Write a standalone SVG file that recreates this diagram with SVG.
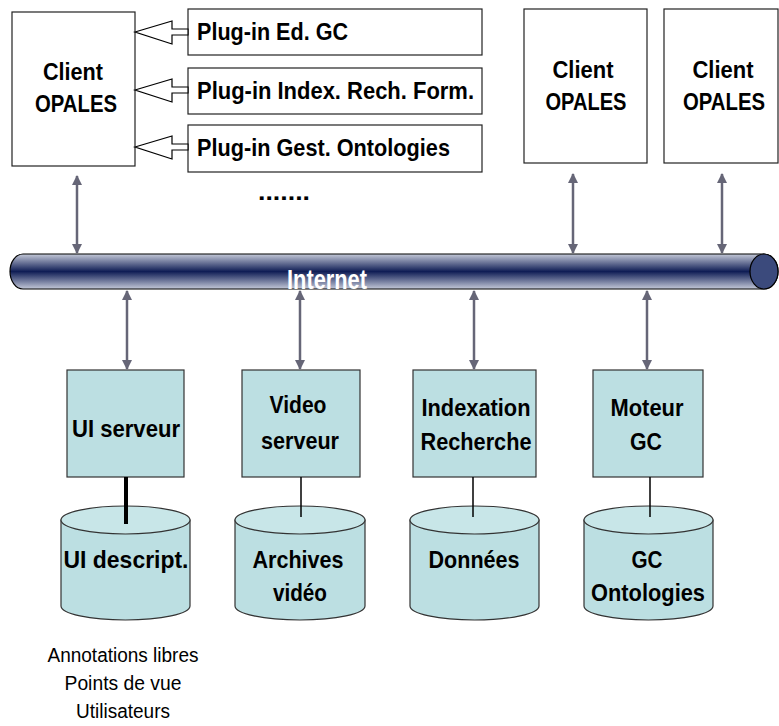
<svg xmlns="http://www.w3.org/2000/svg" width="779" height="726" viewBox="0 0 779 726">
<defs>
<linearGradient id="pipe" x1="0" y1="0" x2="0" y2="1">
<stop offset="0" stop-color="#c4c9d8"/>
<stop offset="0.5" stop-color="#0f1d55"/>
<stop offset="1" stop-color="#c4c9d8"/>
</linearGradient>
<marker id="ah" viewBox="0 0 10 10" refX="9" refY="5" markerWidth="4" markerHeight="4" orient="auto-start-reverse" markerUnits="strokeWidth">
<path d="M0,0 L10,5 L0,10 Z" fill="#666677"/>
</marker>
<style>
.t{font-family:"Liberation Sans Narrow","Arial Narrow","Liberation Sans",sans-serif;font-weight:bold;font-size:24px;fill:#000}
.c{text-anchor:middle}
.r{font-weight:normal;font-size:20px}
.box{fill:#fff;stroke:#222;stroke-width:1.2}
.srv{fill:#bcdfe2;stroke:#333;stroke-width:1.2}
.cyl{fill:#bcdfe2;stroke:#333;stroke-width:1.2}
.top{fill:#c8e6e8;stroke:#333;stroke-width:1.2}
.ar{stroke:#666677;stroke-width:2.5;fill:none;marker-start:url(#ah);marker-end:url(#ah)}
.ln{stroke:#000;stroke-width:1.5}
</style>
</defs>

<g id="internet">
<path d="M23,254 L764,254 A14,17.5 0 0 1 764,289 L23,289 A13,17.5 0 0 1 23,254 Z" fill="url(#pipe)" stroke="#000" stroke-width="1.2"/>
<ellipse cx="764" cy="271.5" rx="14" ry="17.5" fill="#3b4a7c" stroke="#000" stroke-width="1.2"/>
<text class="t c" x="327" y="289" style="fill:#fff;font-size:27px" textLength="80" lengthAdjust="spacingAndGlyphs">Internet</text>
</g>

<g id="client1">
<rect class="box" x="12" y="12" width="123" height="154"/>
<text class="t c" x="73" y="80" textLength="60" lengthAdjust="spacingAndGlyphs">Client</text>
<text class="t c" x="76" y="112" textLength="82" lengthAdjust="spacingAndGlyphs">OPALES</text>
</g>
<g id="plugin1">
<rect class="box" x="188" y="9" width="294" height="46"/>
<text class="t" x="197" y="40" textLength="151" lengthAdjust="spacingAndGlyphs">Plug-in Ed. GC</text>
</g>
<g id="plugin2">
<rect class="box" x="188" y="68" width="294" height="46"/>
<text class="t" x="197" y="99" textLength="277" lengthAdjust="spacingAndGlyphs">Plug-in Index. Rech. Form.</text>
</g>
<g id="plugin3">
<rect class="box" x="188" y="125" width="294" height="47"/>
<text class="t" x="197" y="156" textLength="253" lengthAdjust="spacingAndGlyphs">Plug-in Gest. Ontologies</text>
</g>
<g id="dots">
<text class="t" x="258" y="200" textLength="52" lengthAdjust="spacingAndGlyphs">.......</text>
</g>
<g id="client2">
<rect class="box" x="524" y="9" width="123" height="154"/>
<text class="t c" x="583" y="78" textLength="61" lengthAdjust="spacingAndGlyphs">Client</text>
<text class="t c" x="586" y="110" textLength="81" lengthAdjust="spacingAndGlyphs">OPALES</text>
</g>
<g id="client3">
<rect class="box" x="664" y="9" width="114" height="154"/>
<text class="t c" x="723" y="78" textLength="61" lengthAdjust="spacingAndGlyphs">Client</text>
<text class="t c" x="724" y="110" textLength="82" lengthAdjust="spacingAndGlyphs">OPALES</text>
</g>

<g id="uiserveur">
<rect class="srv" x="67" y="370" width="117" height="107"/>
<text class="t c" x="126" y="437" textLength="108" lengthAdjust="spacingAndGlyphs">UI serveur</text>
</g>
<g id="videoserveur">
<rect class="srv" x="242" y="370" width="118" height="107"/>
<text class="t c" x="298" y="413" textLength="57" lengthAdjust="spacingAndGlyphs">Video</text>
<text class="t c" x="300" y="449" textLength="78" lengthAdjust="spacingAndGlyphs">serveur</text>
</g>
<g id="indexation">
<rect class="srv" x="413" y="370" width="123" height="107"/>
<text class="t c" x="476" y="416" textLength="109" lengthAdjust="spacingAndGlyphs">Indexation</text>
<text class="t c" x="476" y="450" textLength="111" lengthAdjust="spacingAndGlyphs">Recherche</text>
</g>
<g id="moteur">
<rect class="srv" x="593" y="370" width="110" height="107"/>
<text class="t c" x="647" y="416" textLength="73" lengthAdjust="spacingAndGlyphs">Moteur</text>
<text class="t c" x="646" y="450" textLength="32" lengthAdjust="spacingAndGlyphs">GC</text>
</g>

<g id="uidescript">
<path class="cyl" d="M61,520 L190,520 L190,606 A64.5,14 0 0 1 61,606 Z"/>
<ellipse class="top" cx="125.5" cy="520" rx="64.5" ry="14"/>
<text class="t c" x="126" y="568" textLength="125" lengthAdjust="spacingAndGlyphs">UI descript.</text>
</g>
<g id="archives">
<path class="cyl" d="M235,520 L365,520 L365,606 A65,14 0 0 1 235,606 Z"/>
<ellipse class="top" cx="300" cy="520" rx="65" ry="14"/>
<text class="t c" x="298" y="568" textLength="91" lengthAdjust="spacingAndGlyphs">Archives</text>
<text class="t c" x="300" y="601" textLength="54" lengthAdjust="spacingAndGlyphs">vidéo</text>
</g>
<g id="donnees">
<path class="cyl" d="M410,520 L539,520 L539,606 A64.5,14 0 0 1 410,606 Z"/>
<ellipse class="top" cx="474.5" cy="520" rx="64.5" ry="14"/>
<text class="t c" x="474" y="568" textLength="91" lengthAdjust="spacingAndGlyphs">Données</text>
</g>
<g id="gcontologies">
<path class="cyl" d="M584,520 L713,520 L713,606 A64.5,14 0 0 1 584,606 Z"/>
<ellipse class="top" cx="648.5" cy="520" rx="64.5" ry="14"/>
<text class="t c" x="647" y="568" textLength="31" lengthAdjust="spacingAndGlyphs">GC</text>
<text class="t c" x="648" y="601" textLength="114" lengthAdjust="spacingAndGlyphs">Ontologies</text>
</g>

<g id="note">
<text class="t r c" x="123" y="662" textLength="151" lengthAdjust="spacingAndGlyphs">Annotations libres</text>
<text class="t r c" x="123" y="690" textLength="117" lengthAdjust="spacingAndGlyphs">Points de vue</text>
<text class="t r c" x="123" y="718" textLength="94" lengthAdjust="spacingAndGlyphs">Utilisateurs</text>
</g>

<g id="connectors">
<polygon points="135,32 172,21 172,29 188,29 188,35 172,35 172,44" fill="#fff" stroke="#000" stroke-width="1.2"/>
<polygon points="135,90 172,79 172,87 188,87 188,93 172,93 172,102" fill="#fff" stroke="#000" stroke-width="1.2"/>
<polygon points="135,147 172,136 172,144 188,144 188,150 172,150 172,159" fill="#fff" stroke="#000" stroke-width="1.2"/>
<line class="ar" x1="77" y1="176" x2="77" y2="253"/>
<line class="ar" x1="573" y1="174" x2="573" y2="253"/>
<line class="ar" x1="722" y1="174" x2="722" y2="253"/>
<line class="ar" x1="127" y1="291" x2="127" y2="369"/>
<line class="ar" x1="300" y1="291" x2="300" y2="369"/>
<line class="ar" x1="474" y1="291" x2="474" y2="369"/>
<line class="ar" x1="647" y1="291" x2="647" y2="369"/>
<line x1="126" y1="477" x2="126" y2="524" stroke="#000" stroke-width="4"/>
<line class="ln" x1="301" y1="477" x2="301" y2="517"/>
<line class="ln" x1="473" y1="477" x2="473" y2="517"/>
<line class="ln" x1="650" y1="477" x2="650" y2="517"/>
</g>
</svg>
